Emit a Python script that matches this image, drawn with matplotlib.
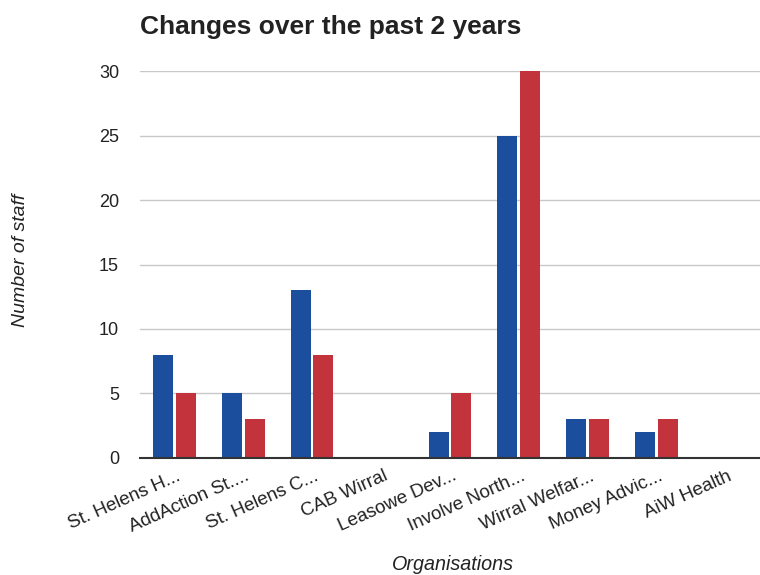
import matplotlib
matplotlib.use("Agg")
import matplotlib.pyplot as plt
import matplotlib.transforms as mtransforms
import numpy as np

# data
organisations = ["St. Helens H...", "AddAction St....", "St. Helens C...", "CAB Wirral",
                 "Leasowe Dev...", "Involve North...", "Wirral Welfar...", "Money Advic...",
                 "AiW Health"]
series_a = [8, 5, 13, 0, 2, 25, 3, 2, 0]
series_b = [5, 3, 8, 0, 5, 30, 3, 3, 0]
y_ticks = [0, 5, 10, 15, 20, 25, 30]

plt.rcParams["font.family"] = ["Liberation Sans", "DejaVu Sans"]

fig = plt.figure(figsize=(7.6, 5.75), dpi=100)
ax = fig.add_axes([0.184, 0.2035, 0.816, 0.673])

x = np.arange(len(organisations))
w = 0.29
ax.bar(x - w / 2 - 0.02, series_a, width=w, color="#1b4f9e", zorder=3, clip_on=False)
ax.bar(x + w / 2 + 0.02, series_b, width=w, color="#c2333b", zorder=3, clip_on=False)

ax.set_xlim(-0.5, len(organisations) - 0.5)
ax.set_ylim(0, 30)
ax.set_yticks(y_ticks)
ax.yaxis.grid(True, color="#c8c8c8", linewidth=1, zorder=0)
ax.tick_params(axis="y", length=0, pad=15, labelsize=13, labelcolor="#222222")
ax.tick_params(axis="x", length=0, pad=7, labelsize=13.5, labelcolor="#222222")

for s in ["top", "right", "left"]:
    ax.spines[s].set_visible(False)
ax.spines["bottom"].set_color("#333333")
ax.spines["bottom"].set_linewidth(1.5)
ax.spines["bottom"].set_zorder(4)

ax.set_xticks(x)
ax.set_xticklabels(organisations, rotation=24, ha="right", rotation_mode="anchor")
offset = mtransforms.ScaledTranslation(0.02, 0, fig.dpi_scale_trans)
for lbl in ax.get_xticklabels():
    lbl.set_transform(lbl.get_transform() + offset)

ax.set_ylabel("Number of staff", fontsize=14, style="italic", color="#222222")
ax.yaxis.set_label_coords(-0.178, 0.51)
ax.set_xlabel("Organisations", fontsize=14.2, style="italic", color="#222222")
ax.xaxis.set_label_coords(0.505, -0.25)

fig.text(0.184, 0.953, "Changes over the past 2 years", fontsize=19, fontweight="bold",
         color="#222222", va="center", ha="left")

fig.savefig("out.png", dpi=100, facecolor="white")
